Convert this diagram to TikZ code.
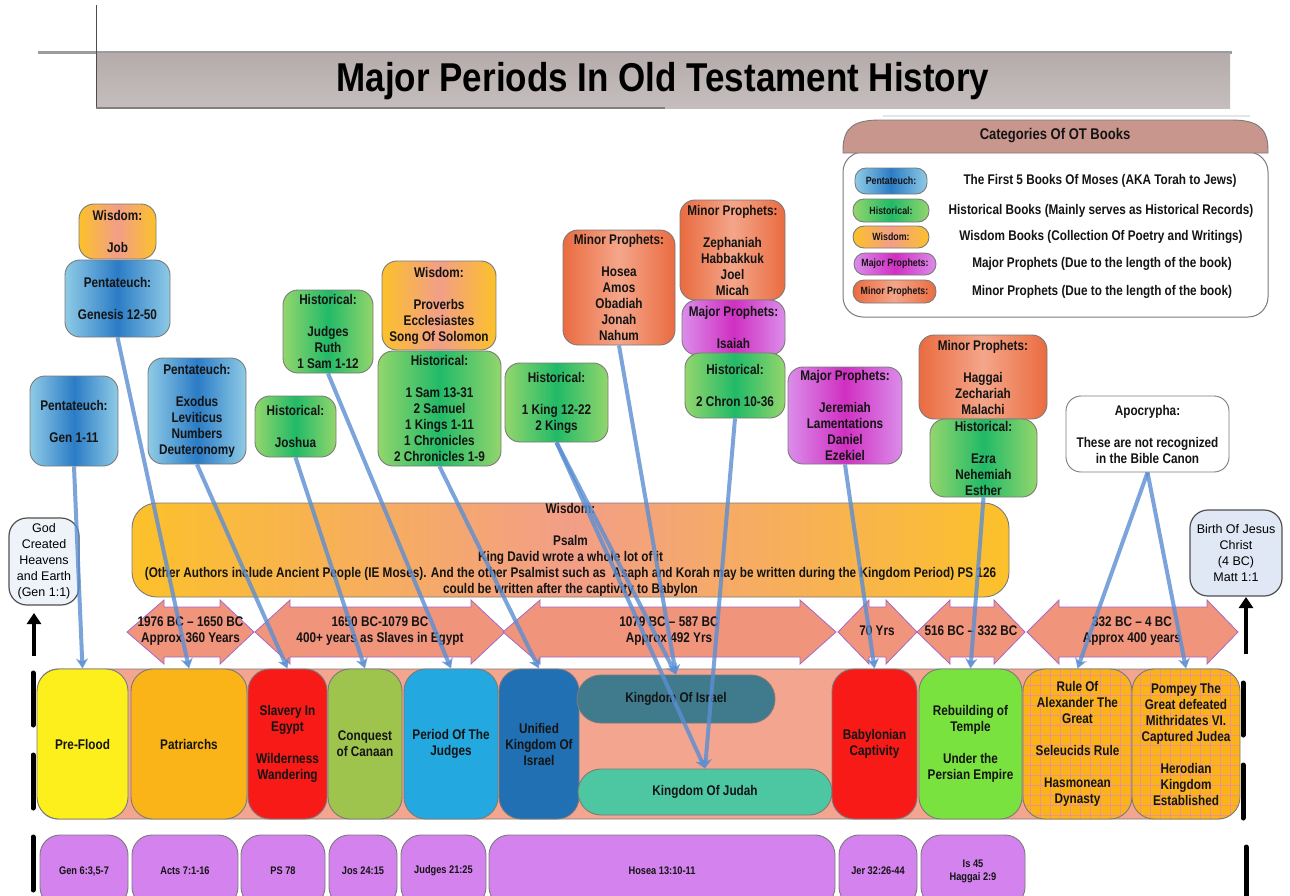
\documentclass[tikz,border=0pt]{standalone}
\usepackage{fontspec}
\usepackage{graphicx}
\setmainfont{Carlito}
\newfontfamily\arialf{Liberation Sans}
\newfontfamily\narrowf[FakeStretch=0.84]{Liberation Sans}
\usetikzlibrary{arrows.meta,patterns.meta}

\definecolor{pentL}{HTML}{8FCBE6}\definecolor{pentM}{HTML}{2B7CC6}
\definecolor{histL}{HTML}{93D66C}\definecolor{histM}{HTML}{21BA68}
\definecolor{wisL}{HTML}{FCC12A}\definecolor{wisM}{HTML}{F29E88}
\definecolor{majL}{HTML}{DB8DEA}\definecolor{majM}{HTML}{D02FC2}
\definecolor{minL}{HTML}{EA6B40}\definecolor{minM}{HTML}{F4A68A}
\definecolor{bordergray}{HTML}{7A7A7A}
\definecolor{notegray}{HTML}{505050}
\definecolor{hdrline}{HTML}{9C9C9C}
\definecolor{hdrtop}{HTML}{B5ABAB}\definecolor{hdrbot}{HTML}{C6BEBE}
\definecolor{legendhdr}{HTML}{C8968C}
\definecolor{arrowfill}{HTML}{F0947C}\definecolor{arrowedge}{HTML}{A468C8}
\definecolor{bandfill}{HTML}{F3A58F}
\definecolor{conncol}{HTML}{5B8ED3}
\definecolor{prefloodc}{HTML}{FDEF1C}\definecolor{patric}{HTML}{FBB417}
\definecolor{slavc}{HTML}{F81A17}\definecolor{conqc}{HTML}{9EC44D}
\definecolor{judgc}{HTML}{23A9DF}\definecolor{unifc}{HTML}{2170B3}
\definecolor{isrc}{HTML}{3F7B8D}\definecolor{judc}{HTML}{4DC7A1}
\definecolor{rebuildc}{HTML}{7AE23F}\definecolor{gridpink}{HTML}{EE9090}
\definecolor{refpurple}{HTML}{D382EE}
\definecolor{godfill}{HTML}{EEF2F9}\definecolor{jesusfill}{HTML}{DFE8F4}
\definecolor{txt}{HTML}{141414}

\newcommand\bodyf{\narrowf\bfseries\fontsize{14}{16}\selectfont\color{txt}}
\newcommand\legf{\narrowf\bfseries\fontsize{14}{16}\selectfont\color{txt}}
\newcommand\pillf{\narrowf\bfseries\fontsize{10.5}{11}\selectfont\color{txt}}
\newcommand\reff{\narrowf\bfseries\fontsize{11}{13}\selectfont\color{txt}}
\newcommand\notef{\arialf\fontsize{12.5}{16}\selectfont}
\newcommand\titlef{\arialf\bfseries\fontsize{35}{40}\selectfont}
\newcommand\dblarr[4]{\draw[dblarrow] (#1,632) -- (#2,600) -- (#2,607) -- (#3,607) -- (#3,600) -- (#4,632) -- (#3,664) -- (#3,657) -- (#2,657) -- (#2,664) -- cycle;}

\tikzset{
  every node/.style={inner sep=0pt, align=center},
  pentfill/.style={left color=pentL, right color=pentL, middle color=pentM},
  histfill/.style={left color=histL, right color=histL, middle color=histM},
  wisfill/.style={left color=wisL, right color=wisL, middle color=wisM},
  majfill/.style={left color=majL, right color=majL, middle color=majM},
  minfill/.style={left color=minL, right color=minL, middle color=minM},
  box/.style={draw=bordergray, line width=0.9pt, rounded corners=15pt, font=\bodyf},
  pent/.style={box, pentfill},
  hist/.style={box, histfill},
  wis/.style={box, wisfill},
  majp/.style={box, majfill},
  minp/.style={box, minfill},
  apocbox/.style={box, fill=white},
  pill/.style={draw=bordergray, line width=0.9pt, rounded corners=11pt, font=\pillf},
  legtext/.style={font=\legf},
  period/.style={draw=bordergray, line width=0.9pt, rounded corners=22pt, minimum height=150pt, font=\bodyf},
  gridbox/.style={period, preaction={fill=patric}, pattern={Hatch[angle=0,distance=10pt,line width=0.7pt]}, pattern color=gridpink},
  refbox/.style={draw=bordergray, line width=0.9pt, fill=refpurple, rounded corners=20pt, minimum height=72pt, font=\reff},
  note/.style={draw=notegray, line width=1.2pt, rounded corners=18pt, font=\notef},
  dblarrow/.style={fill=arrowfill, draw=arrowedge, line width=0.8pt},
  datetext/.style={font=\bodyf},
  conn/.style={draw=conncol, opacity=0.8, line width=4pt, -{Stealth[width=12pt,length=10pt,inset=3pt]}},
  uparrow/.style={draw=black, line width=4pt, -{Triangle[width=14pt,length=11pt]}},
  blackbar/.style={draw=black, line width=5pt, line cap=round}
}

\begin{document}
\begin{tikzpicture}[x=1pt,y=-1pt]
\useasboundingbox (0,0) rectangle (1290,895);
\clip (0,0) rectangle (1290,895);
\fill[white] (0,0) rectangle (1290,895);

% ---------- header ----------
\draw[line width=3pt, draw=hdrline] (38,52) -- (1232,52);
\fill[top color=hdrtop, bottom color=hdrbot] (96,53.5) rectangle (1230,108);
\draw[line width=1pt, draw=gray!60!black] (96,5) -- (96,108);
\draw[line width=2pt, draw=gray] (96,108) -- (665,108);
\draw[line width=2pt, draw=black!10] (883,116) -- (1250,116);
\node[font=\titlef] (title) at (663,81) {\scalebox{1}[1.15]{Major Periods In Old Testament History}};

% ---------- legend ----------
\node[draw=bordergray, line width=1pt, rounded corners=20pt, fill=white, minimum width=425pt, minimum height=165pt] (legbox) at (1055.5,234.5) {};
\draw[draw=bordergray, line width=0.9pt, fill=legendhdr] (843,153) -- (843,150) .. controls (843,126) and (856,120) .. (880,120) -- (1231,120) .. controls (1255,120) and (1268,126) .. (1268,150) -- (1268,153) -- cycle;
\node[font=\narrowf\bfseries\fontsize{15.5}{18}\selectfont\color{txt}] (legtitle) at (1055,136) {Categories Of OT Books};
\node[pill, pentfill, minimum width=72pt, minimum height=26pt] (lp1) at (891,181) {Pentateuch:};
\node[pill, histfill, minimum width=76pt, minimum height=23pt] (lp2) at (891,210.5) {Historical:};
\node[pill, wisfill, minimum width=76pt, minimum height=22pt] (lp3) at (891,237) {Wisdom:};
\node[pill, majfill, minimum width=82pt, minimum height=22pt] (lp4) at (895,264) {Major Prophets:};
\node[pill, minfill, minimum width=83pt, minimum height=23pt] (lp5) at (894.5,291.5) {Minor Prophets:};
\node[legtext] (lt1) at (1100,181) {The First 5 Books Of Moses (AKA Torah to Jews)};
\node[legtext] (lt2) at (1101,210.5) {Historical Books (Mainly serves as Historical Records)};
\node[legtext] (lt3) at (1101,237) {Wisdom Books (Collection Of Poetry and Writings)};
\node[legtext] (lt4) at (1102,264) {Major Prophets (Due to the length of the book)};
\node[legtext] (lt5) at (1102,291.5) {Minor Prophets (Due to the length of the book)};

% ---------- book boxes ----------
\node[wis, minimum width=77pt, minimum height=55pt] (job) at (117.5,231.5) {Wisdom:\\[16pt]Job};
\node[pent, minimum width=105pt, minimum height=77pt] (gen12) at (117.5,298.5) {Pentateuch:\\[16pt]Genesis 12-50};
\node[pent, minimum width=88pt, minimum height=90pt] (gen111) at (74,421) {Pentateuch:\\[16pt]Gen 1-11};
\node[pent, minimum width=98pt, minimum height=106pt] (exod) at (197,411) {Pentateuch:\\[16pt]Exodus\\Leviticus\\Numbers\\Deuteronomy};
\node[hist, minimum width=81pt, minimum height=61pt] (josh) at (295.5,426.5) {Historical:\\[16pt]Joshua};
\node[hist, minimum width=90pt, minimum height=83pt] (judges) at (328,331.5) {Historical:\\[16pt]Judges\\Ruth\\1 Sam 1-12};
\node[wis, minimum width=114pt, minimum height=89pt] (prov) at (439,305.5) {Wisdom:\\[16pt]Proverbs\\Ecclesiastes\\Song Of Solomon};
\node[hist, minimum width=123pt, minimum height=115pt] (sam) at (439.5,408.5) {Historical:\\[16pt]1 Sam 13-31\\2 Samuel\\1 Kings 1-11\\1 Chronicles\\2 Chronicles 1-9};
\node[hist, minimum width=103pt, minimum height=79pt] (king) at (556.5,402.5) {Historical:\\[16pt]1 King 12-22\\2 Kings};
\node[minp, minimum width=112pt, minimum height=115pt] (hosea) at (619,287.5) {Minor Prophets:\\[16pt]Hosea\\Amos\\Obadiah\\Jonah\\Nahum};
\node[minp, minimum width=105pt, minimum height=100pt] (zeph) at (732.5,250) {Minor Prophets:\\[16pt]Zephaniah\\Habbakkuk\\Joel\\Micah};
\node[majp, minimum width=103pt, minimum height=55pt] (isa) at (733.5,327.5) {Major Prophets:\\[16pt]Isaiah};
\node[hist, minimum width=100pt, minimum height=65pt] (chron) at (735,385.5) {Historical:\\[16pt]2 Chron 10-36};
\node[majp, minimum width=114pt, minimum height=97pt] (jer) at (845,415.5) {Major Prophets:\\[16pt]Jeremiah\\Lamentations\\Daniel\\Ezekiel};
\node[minp, minimum width=128pt, minimum height=84pt] (haggai) at (983,377) {Minor Prophets:\\[16pt]Haggai\\Zechariah\\Malachi};
\node[hist, minimum width=107pt, minimum height=78pt] (ezra) at (983.5,458) {Historical:\\[16pt]Ezra\\Nehemiah\\Esther};
\node[apocbox, minimum width=163pt, minimum height=76pt] (apoc) at (1147.5,434) {Apocrypha:\\[16pt]These are not recognized\\in the Bible Canon};

% ---------- psalm ----------
\node[wis, rounded corners=25pt, minimum width=877pt, minimum height=94pt] (psalm) at (570.5,550) {Wisdom:\\[16pt]Psalm\\King David wrote a whole lot of it\\(Other Authors include Ancient People (IE Moses). And the other Psalmist such as \ Asaph and Korah may be written during the Kingdom Period) PS 126\\could be written after the captivity to Babylon};

% ---------- date arrows ----------
\dblarr{127}{164}{220}{254}
\dblarr{255}{290}{471}{505}
\dblarr{503}{540}{800}{836}
\dblarr{838}{869}{886}{917}
\dblarr{917}{950}{994}{1025}
\dblarr{1027}{1059}{1207}{1238}
\node[datetext] (d1) at (190.5,631) {1976 BC – 1650 BC\\Approx 360 Years};
\node[datetext] (d2) at (380,631) {1650 BC-1079 BC\\400+ years as Slaves in Egypt};
\node[datetext] (d3) at (669,631) {1079 BC – 587 BC\\Approx 492 Yrs};
\node[datetext] (d4) at (877,631) {70 Yrs};
\node[datetext] (d5) at (971,631) {516 BC – 332 BC};
\node[datetext] (d6) at (1132,631) {332 BC – 4 BC\\Approx 400 years};

% ---------- start / end notes ----------
\node[note, fill=godfill, minimum width=70pt, minimum height=87pt] (god) at (44,561.5) {God\\Created\\Heavens\\and Earth\\(Gen 1:1)};
\node[note, fill=jesusfill, minimum width=92pt, minimum height=86pt] (jesus) at (1236,553) {Birth Of Jesus\\Christ\\(4 BC)\\Matt 1:1};
\coordinate (upLb) at (34,656);
\coordinate (upLt) at (34,613);
\coordinate (upRb) at (1246,654);
\coordinate (upRt) at (1246,597);
\draw[uparrow] (upLb) -- (upLt);
\draw[uparrow] (upRb) -- (upRt);

% ---------- timeline ----------
\draw[fill=bandfill, draw=bordergray, line width=0.9pt, rounded corners=20pt] (38,669) rectangle (1238,819);
\node[period, fill=prefloodc, minimum width=91pt] (preflood) at (82.5,744) {Pre-Flood};
\node[period, fill=patric, minimum width=116pt] (patri) at (189,744) {Patriarchs};
\node[period, fill=slavc, minimum width=79pt] (slav) at (287.5,744) {Slavery In\\Egypt\\[16pt]Wilderness\\Wandering};
\node[period, fill=conqc, minimum width=74pt] (conq) at (365,744) {Conquest\\of Canaan};
\node[period, fill=judgc, minimum width=94pt] (judg) at (451,744) {Period Of The\\Judges};
\node[period, fill=unifc, minimum width=80pt] (unif) at (539,744) {Unified\\Kingdom Of\\Israel};
\node[period, fill=isrc, rounded corners=24pt, minimum width=198pt, minimum height=48pt] (israel) at (676,699) {Kingdom Of Israel};
\node[period, fill=judc, rounded corners=23pt, minimum width=254pt, minimum height=46pt] (judah) at (705,792) {Kingdom Of Judah};
\node[period, fill=slavc, minimum width=85pt] (babyl) at (874.5,744) {Babylonian\\Captivity};
\node[period, fill=rebuildc, minimum width=103pt] (rebuild) at (970.5,744) {Rebuilding of\\Temple\\[16pt]Under the\\Persian Empire};
\node[gridbox, minimum width=109pt] (alex) at (1077.5,744) {Rule Of\\Alexander The\\Great\\[16pt]Seleucids Rule\\[16pt]Hasmonean\\Dynasty};
\node[gridbox, minimum width=108pt] (pompey) at (1186,744) {Pompey The\\Great defeated\\Mithridates VI.\\Captured Judea\\[16pt]Herodian\\Kingdom\\Established};

% ---------- bars ----------
\draw[blackbar] (33,673) -- (33,725);
\draw[blackbar] (33,755) -- (33,808);
\draw[blackbar] (1243,683) -- (1243,735);
\draw[blackbar] (1243,765) -- (1243,818);
\draw[blackbar] (33,837) -- (33,890);
\draw[blackbar] (1246,847) -- (1246,900);

% ---------- scripture references ----------
\node[refbox, minimum width=88pt] (r1) at (84,871) {Gen 6:3,5-7};
\node[refbox, minimum width=106pt] (r2) at (185,871) {Acts 7:1-16};
\node[refbox, minimum width=84pt] (r3) at (283,871) {PS 78};
\node[refbox, minimum width=68pt] (r4) at (363,871) {Jos 24:15};
\node[refbox, minimum width=85pt] (r5) at (443.5,871) {Judges 21:25};
\node[refbox, minimum width=346pt] (r6) at (662,871) {Hosea 13:10-11};
\node[refbox, minimum width=78pt] (r7) at (878,871) {Jer 32:26-44};
\node[refbox, minimum width=104pt] (r8) at (973,871) {Is 45\\Haggai 2:9};

% ---------- connectors ----------
\draw[conn] (gen111.south) -- (preflood.north);
\draw[conn] (gen12.south) -- (patri.north);
\draw[conn] (exod.south) -- (slav.north);
\draw[conn] (josh.south) -- (conq.north);
\draw[conn] (judges.south) -- (judg.north);
\draw[conn] (sam.south) -- (unif.north);
\draw[conn] (king.south) -- (israel.north);
\draw[conn] (king.south) -- (judah.north);
\draw[conn] (hosea.south) -- (israel.north);
\draw[conn] (chron.south) -- (judah.north);
\draw[conn] (jer.south) -- (babyl.north);
\draw[conn] (ezra.south) -- (rebuild.north);
\draw[conn] (apoc.south) -- (alex.north);
\draw[conn] (apoc.south) -- (pompey.north);
\end{tikzpicture}
\end{document}
